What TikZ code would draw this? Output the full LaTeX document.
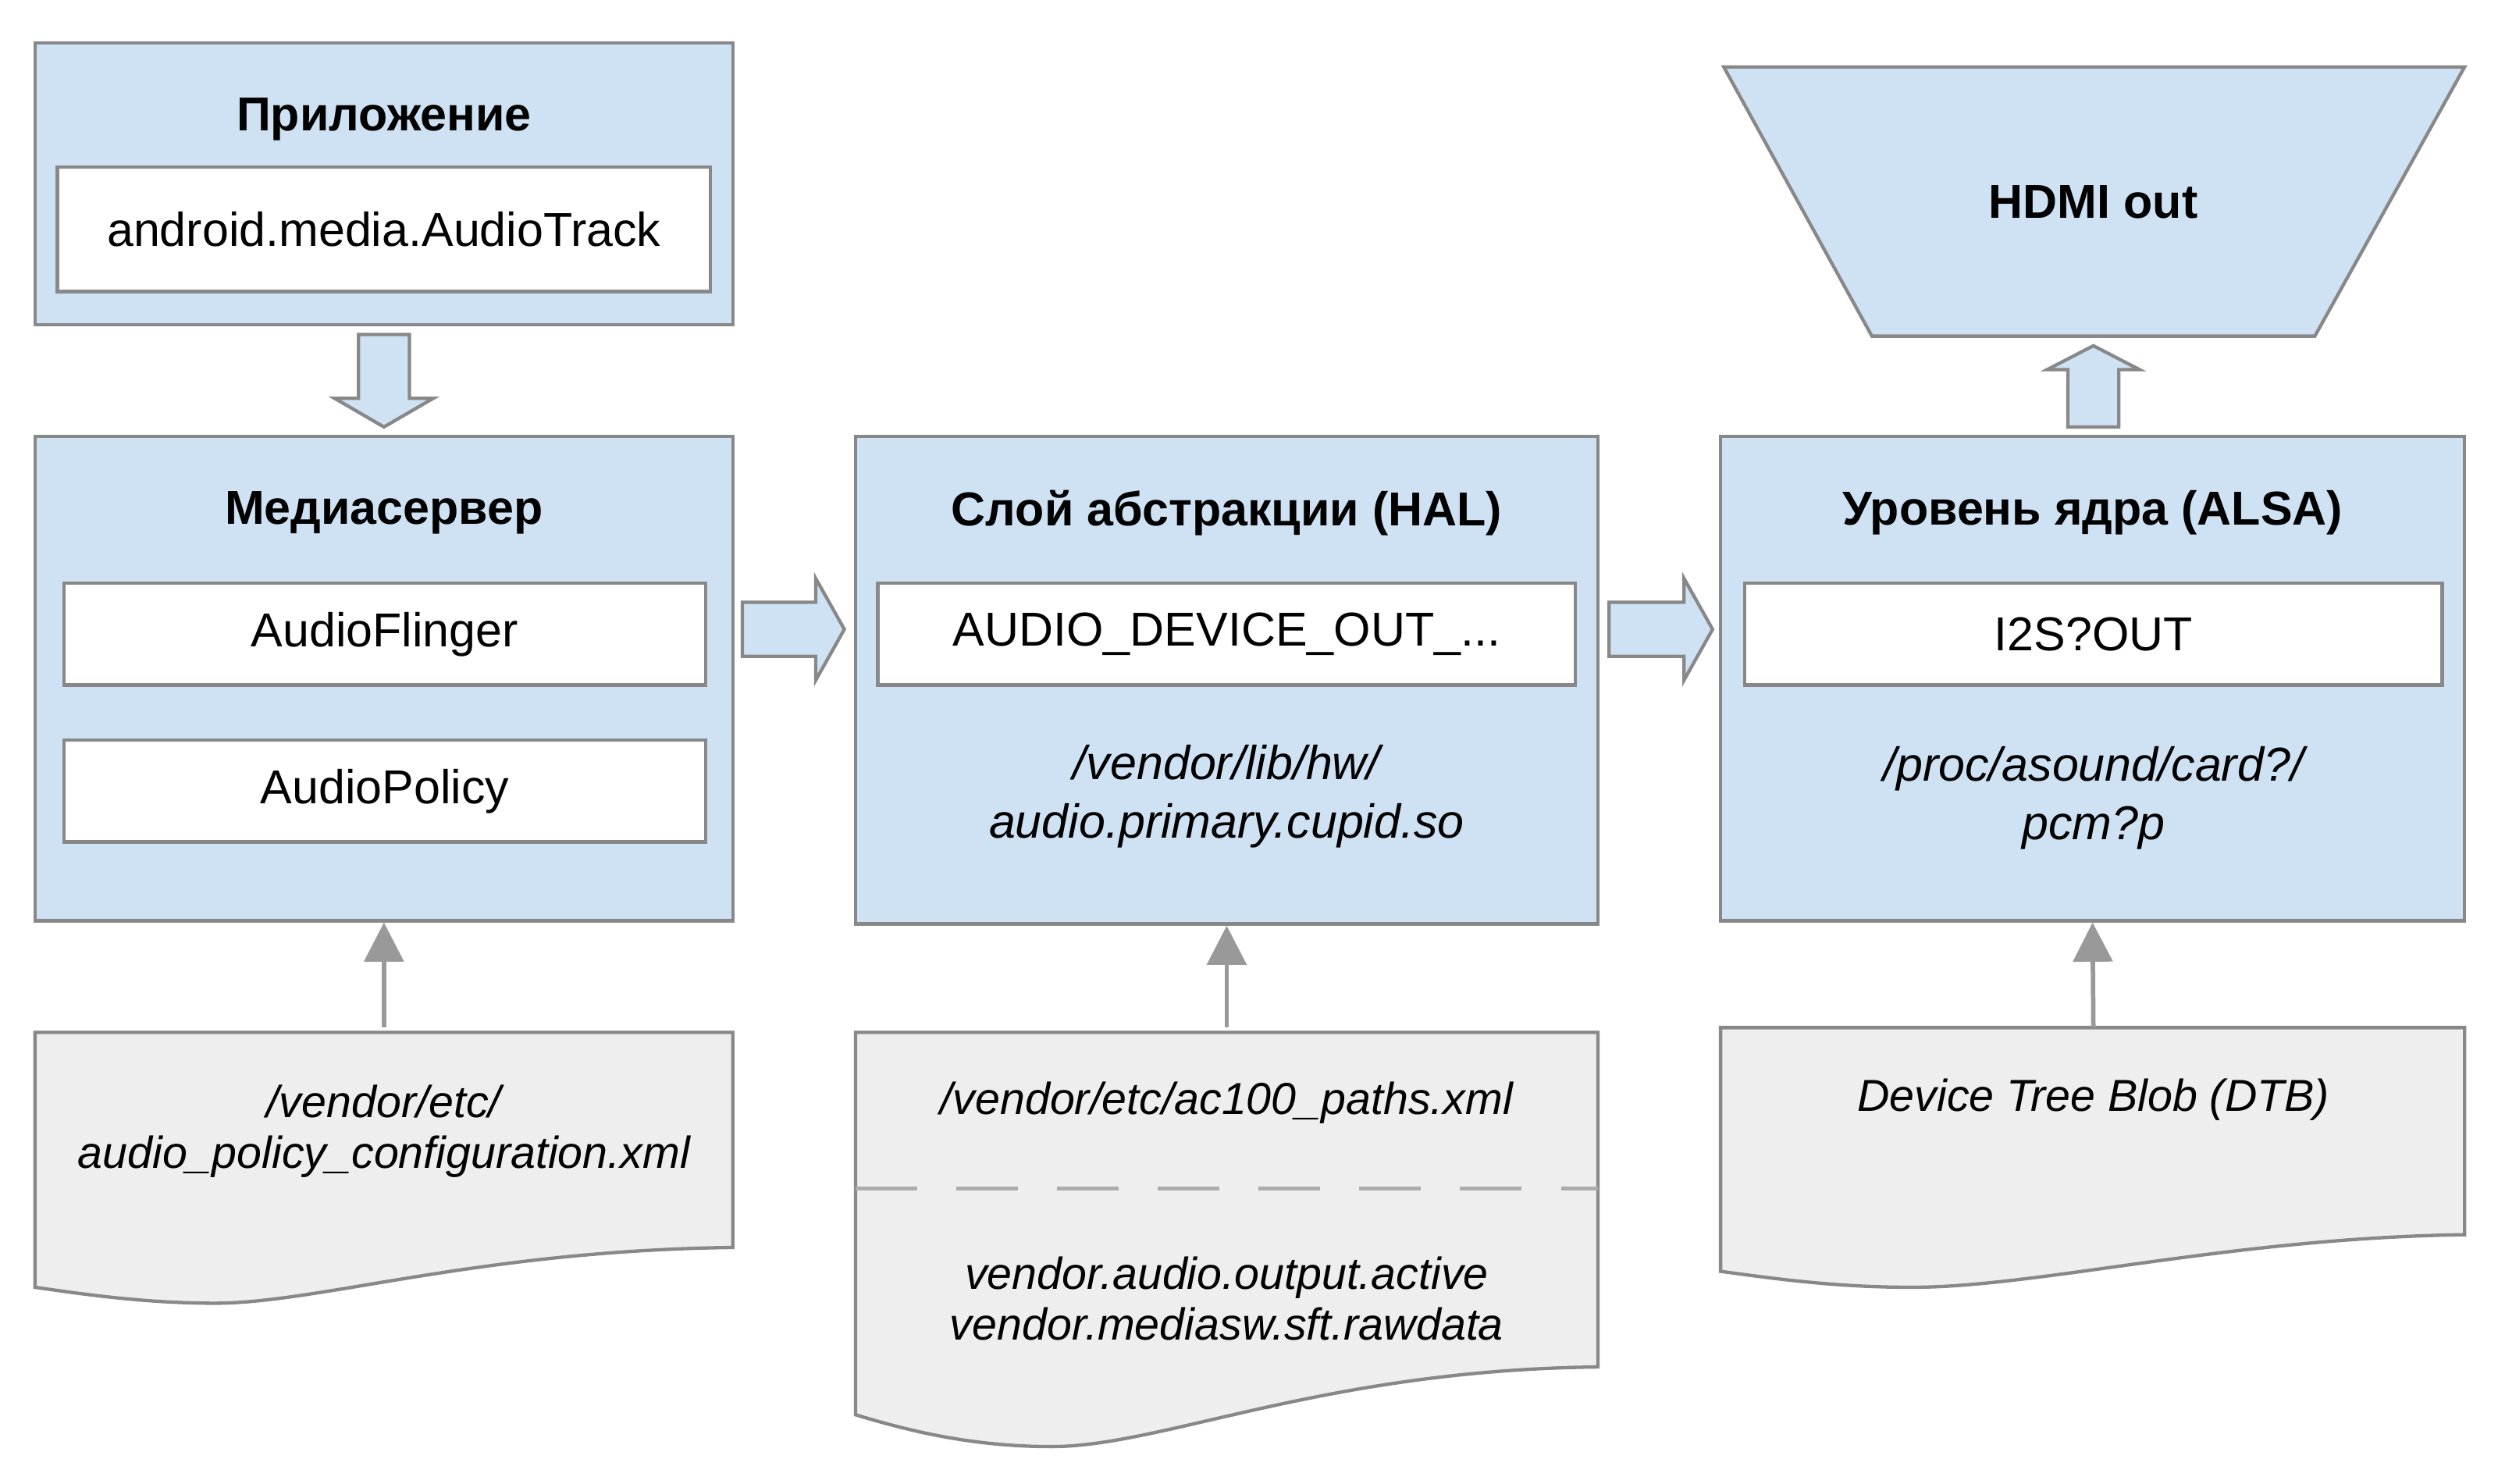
\documentclass[tikz,border=0pt]{standalone}
\usepackage{fontspec}
\setmainfont{Liberation Sans}
\definecolor{boxblue}{HTML}{CFE2F3}
\definecolor{docgray}{HTML}{EEEEEE}
\definecolor{edge}{HTML}{888888}
\definecolor{arrgray}{HTML}{999999}
\usetikzlibrary{arrows.meta}
\tikzset{
  layer/.style={draw=edge,line width=1.2pt,fill=boxblue,minimum width=#1,inner sep=0pt},
  item/.style={draw=edge,line width=1.2pt,fill=white,minimum width=#1,minimum height=1.28cm,inner sep=0pt,font=\fontsize{17}{20}\selectfont},
  title/.style={font=\fontsize{17}{20}\selectfont\bfseries},
  path/.style={font=\fontsize{17}{21}\selectfont\itshape,align=center},
  doc/.style={draw=edge,line width=1.2pt,fill=docgray},
  blockarr/.style={draw=edge,line width=1.2pt,fill=boxblue},
  cfg/.style={-{Triangle[length=14pt,width=14pt]},draw=arrgray,line width=1.6pt},
}
\begin{document}
\begin{tikzpicture}[x=0.02cm,y=-0.02cm]
\useasboundingbox (0,0) rectangle (1568,931);
% layers
\node[layer=8.76cm,minimum height=3.54cm] (app) at (241,115.5) {};
\node[title] (appT) at (241,75) {Приложение};
\node[item=8.2cm,minimum height=1.56cm] (track) at (241,144) {android.media.AudioTrack};
\node[layer=8.76cm,minimum height=6.08cm] (media) at (241,426) {};
\node[title] (mediaT) at (241,322) {Медиасервер};
\node[item=8.06cm] (flinger) at (241.5,398) {AudioFlinger};
\node[item=8.06cm] (policy) at (241.5,496.5) {AudioPolicy};
\node[layer=9.32cm,minimum height=6.12cm] (hal) at (770,427) {};
\node[title] (halT) at (770,322) {Слой абстракции (HAL)};
\node[item=8.76cm] (dev) at (770,398) {AUDIO\_DEVICE\_OUT\_...};
\node[path] (halP) at (770,500) {/vendor/lib/hw/\\audio.primary.cupid.so};
\node[layer=9.34cm,minimum height=6.08cm] (alsa) at (1313.5,426) {};
\node[title] (alsaT) at (1313.5,322) {Уровень ядра (ALSA)};
\node[item=8.76cm] (i2s) at (1314,398) {I2S?OUT};
\node[path] (alsaP) at (1314,501) {/proc/asound/card?/\\pcm?p};
% hdmi
\draw[blockarr] (1082,42) -- (1547,42) -- (1453,211) -- (1175,211) -- cycle;
\node[title] (hdmi) at (1314,127) {HDMI out};
% block arrows
\draw[blockarr] (225,210) -- (257,210) -- (257,250) -- (272,250) -- (241,268) -- (210,250) -- (225,250) -- cycle;
\draw[blockarr] (466,378) -- (512,378) -- (512,363) -- (530,395) -- (512,427) -- (512,412) -- (466,412) -- cycle;
\draw[blockarr] (1010,378) -- (1057,378) -- (1057,363) -- (1075,395) -- (1057,427) -- (1057,412) -- (1010,412) -- cycle;
\draw[blockarr] (1298,268) -- (1298,232) -- (1285,232) -- (1314,217) -- (1343,232) -- (1330,232) -- (1330,268) -- cycle;
% config documents
\draw[doc] (22,648) -- (460,648) -- (460,783) .. controls (300,785) and (200,818) .. (135,818) .. controls (90,818) and (50,812) .. (22,808) -- cycle;
\node[path,font=\fontsize{16}{18}\selectfont\itshape] (polCfg) at (241,710) {/vendor/etc/\\audio\_policy\_configuration.xml};
\draw[doc] (537,648) -- (1003,648) -- (1003,858) .. controls (830,860) and (730,908) .. (660,908) .. controls (610,908) and (570,898) .. (537,888) -- cycle;
\draw[edge!70,dashed,dash pattern=on 22pt off 14pt,line width=1.2pt] (537,746) -- (1003,746);
\node[path,font=\fontsize{16}{18}\selectfont\itshape] (pathsCfg) at (770,692) {/vendor/etc/ac100\_paths.xml};
\node[path,font=\fontsize{16}{18}\selectfont\itshape] (props) at (770,815) {vendor.audio.output.active\\vendor.mediasw.sft.rawdata};
\draw[doc] (1080,645) -- (1547,645) -- (1547,775) .. controls (1400,777) and (1280,808) .. (1200,808) .. controls (1150,808) and (1110,802) .. (1080,798) -- cycle;
\node[path,font=\fontsize{16}{18}\selectfont\itshape] (dtb) at (1314,690) {Device Tree Blob (DTB)};
% config links
\coordinate (polTop) at (241,645);
\coordinate (pathsTop) at (770,645);
\coordinate (dtbTop) at (1314,645);
\draw[cfg] (polTop) -- (media.south);
\draw[cfg] (pathsTop) -- (hal.south);
\draw[cfg] (dtbTop) -- (alsa.south);
\end{tikzpicture}
\end{document}
